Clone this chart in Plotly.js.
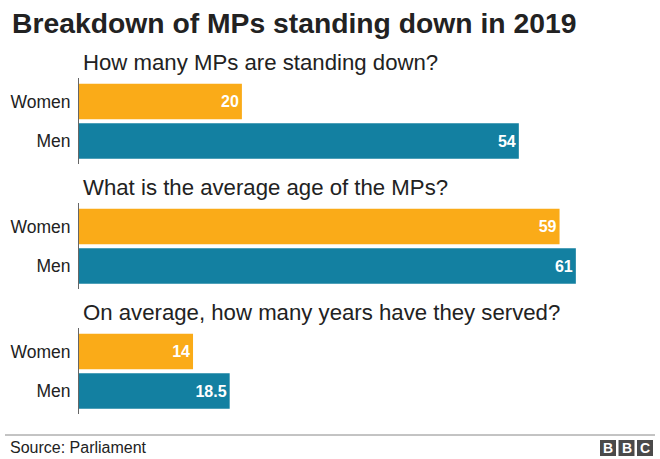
<!DOCTYPE html>
<html>
<head>
<meta charset="utf-8">
<script src="https://cdn.plot.ly/plotly-3.0.1.min.js"></script>
<style>html,body{margin:0;padding:0;background:#fff;}#chart{width:660px;height:459px;}</style>
</head>
<body>
<div id="chart"></div>
<script>
const chartTitle = 'Breakdown of MPs standing down in 2019';
const categories = ['Women', 'Men'];
const questions = [
  'How many MPs are standing down?',
  'What is the average age of the MPs?',
  'On average, how many years have they served?'
];
const womenValues = [20, 59, 14];
const menValues = [54, 61, 18.5];
const sourceText = 'Source: Parliament';
const logoLetters = ['B', 'B', 'C'];

const W = 660, H = 459;
const FONT = '"Liberation Sans", Arial, Helvetica, sans-serif';
const ORANGE = '#FAAB18', TEAL = '#1380A1';
const ml = 79, mr = 10;
const pxPerUnit = 8.145;
const xMax = (W - ml - mr) / pxPerUnit;

const traces = [];
const layout = {
  width: W, height: H,
  margin: {l: ml, r: mr, t: 0, b: 0},
  paper_bgcolor: '#fff', plot_bgcolor: '#fff',
  showlegend: false,
  bargap: 0.1,
  font: {family: FONT, color: '#222'},
  xaxis: {range: [0, xMax], visible: false, fixedrange: true},
  annotations: [],
  shapes: []
};

const fy = px => 1 - px / H;
const pw = W - ml - mr;

questions.forEach((q, i) => {
  const top = 78 + 125 * i, bottom = 164 + 125 * i;
  const yName = i === 0 ? 'yaxis' : 'yaxis' + (i + 1);
  const yRef = i === 0 ? 'y' : 'y' + (i + 1);
  const vals = [womenValues[i], menValues[i]];
  traces.push({
    type: 'bar', orientation: 'h',
    x: vals, y: categories,
    xaxis: 'x', yaxis: yRef,
    marker: {color: [ORANGE, TEAL]},
    text: vals.map(v => String(v)),
    textposition: 'inside',
    insidetextanchor: 'end',
    constraintext: 'none',
    textfont: {family: FONT, size: 16, color: '#fff', weight: 'bold'},
    hoverinfo: 'skip'
  });
  layout[yName] = {
    type: 'category',
    domain: [fy(bottom), fy(top)],
    range: [1.58, -0.595],
    showline: true, linecolor: '#666', linewidth: 1,
    showgrid: false, zeroline: false,
    ticks: '', ticklabelstandoff: 4,
    tickfont: {family: FONT, size: 17.5, color: '#222'},
    fixedrange: true
  };
  layout.annotations.push({
    text: q, xref: 'paper', yref: 'paper', x: 0, xanchor: 'left',
    xshift: 2,
    y: fy(top - 1), yanchor: 'bottom', showarrow: false,
    font: {family: FONT, size: 22.2, color: '#222'}
  });
});

layout.annotations.push({
  text: '<b>' + chartTitle + '</b>', xref: 'paper', yref: 'paper',
  x: (10 - ml) / pw, xanchor: 'left',
  y: fy(23), yanchor: 'middle', showarrow: false,
  font: {family: FONT, size: 28.3, color: '#222'}
});
layout.annotations.push({
  text: sourceText, xref: 'paper', yref: 'paper',
  x: (8 - ml) / pw, xanchor: 'left',
  y: fy(447), yanchor: 'middle', showarrow: false,
  font: {family: FONT, size: 16, color: '#222'}
});
// footer rule
layout.shapes.push({
  type: 'line', xref: 'paper', yref: 'paper',
  x0: (5 - ml) / pw, x1: (655 - ml) / pw,
  y0: fy(435), y1: fy(435), line: {color: '#888', width: 1}
});
// BBC blocks
logoLetters.forEach((L, k) => {
  const x0 = 600 + k * 18.5, x1 = x0 + 16;
  layout.shapes.push({
    type: 'rect', xref: 'paper', yref: 'paper',
    x0: (x0 - ml) / pw, x1: (x1 - ml) / pw,
    y0: fy(456), y1: fy(440),
    fillcolor: '#4a4a4a', line: {width: 0}
  });
  layout.annotations.push({
    text: '<b>' + L + '</b>', xref: 'paper', yref: 'paper',
    x: ((x0 + x1) / 2 - ml) / pw, xanchor: 'center',
    y: fy(448), yanchor: 'middle', showarrow: false,
    font: {family: FONT, size: 14, color: '#fff'}
  });
});

Plotly.newPlot('chart', traces, layout, {displayModeBar: false, staticPlot: true});
</script>
</body>
</html>
